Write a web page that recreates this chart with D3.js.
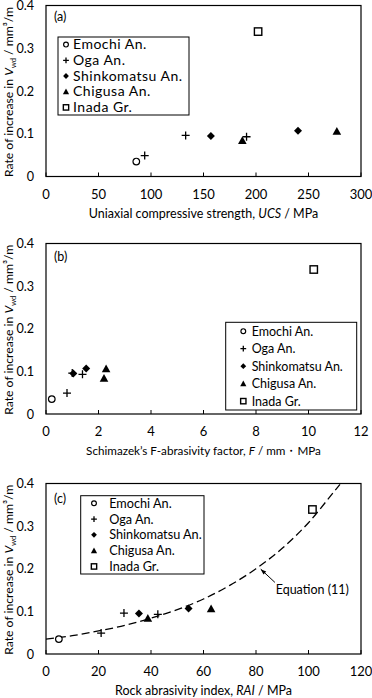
<!DOCTYPE html>
<html lang="en">
<head>
<meta charset="UTF-8">
<title>Rate of increase in Vwd vs rock properties</title>
<script src="https://d3js.org/d3.v7.min.js"></script>
<style>
    body { margin: 0; background: #fff; }
    svg { display: block; font-family: Lato, 'Open Sans', sans-serif; }
</style>
</head>
<body>
<div id="chart"></div>
<script>
// rock groups, legend order
const groups = ["Emochi An.", "Oga An.", "Shinkomatsu An.", "Chigusa An.", "Inada Gr."];

// rate of increase in Vwd (mm3/m) for each test, grouped by rock
const rateValues = [[0.035], [0.049, 0.096, 0.093], [0.095, 0.107], [0.084, 0.106], [0.339]];

// x values for the same tests in each panel
const ucsValues = [[86], [94, 133, 191], [157, 240], [187, 277], [202]];
const fValues = [[0.22], [0.8, 1.0, 1.39], [1.04, 1.53], [2.21, 2.29], [10.2]];
const raiValues = [[4.9], [21, 29.7, 42.6], [35.4, 54.3], [38.8, 62.9], [101.5]];

// Equation (11) curve: [RAI, rate]
const eqCurve = [[0, 0.035], [10, 0.043], [20, 0.054], [30, 0.067], [40, 0.084], [50, 0.104],
    [60, 0.129], [70, 0.161], [80, 0.200], [90, 0.248], [100, 0.308], [110, 0.383], [112, 0.398]];

const ucsTicks = [0, 50, 100, 150, 200, 250, 300];
const fTicks = [0, 2, 4, 6, 8, 10, 12];
const raiTicks = [0, 20, 40, 60, 80, 100, 120];
const rateTicks = [0, 0.1, 0.2, 0.3, 0.4];

const width = 372, height = 698;
const left = 46, right = 361;
const markerTypes = ["circle", "plus", "diamond", "triangle", "square"];

const svg = d3.select("#chart").append("svg")
    .attr("width", width)
    .attr("height", height);

// rich text helper: segments with italic / subscript
function richText(sel, parts) {
    parts.forEach(p => {
        const ts = sel.append("tspan").text(p.t);
        if (p.i) ts.attr("font-style", "italic");
        if (p.sub) ts.attr("font-size", "0.62em").attr("dy", 3);
        if (p.after) ts.attr("dy", -3);
    });
}

function marker(g, type, s) {
    if (type === "circle") {
        g.append("circle").attr("r", 3.3 * s).attr("fill", "#fff").attr("stroke", "#000").attr("stroke-width", 1.2);
    } else if (type === "plus") {
        const h = 4 * s;
        g.append("path").attr("d", `M${-h},0H${h}M0,${-h}V${h}`).attr("stroke", "#000").attr("stroke-width", 1.3);
    } else if (type === "diamond") {
        const h = 4 * s;
        g.append("path").attr("d", `M0,${-h}L${h},0L0,${h}L${-h},0Z`).attr("fill", "#000");
    } else if (type === "triangle") {
        const h = 4.3 * s;
        g.append("path").attr("d", `M0,${-h}L${h},${h * 0.8}L${-h},${h * 0.8}Z`).attr("fill", "#000");
    } else {
        const h = 3.7 * s;
        g.append("rect").attr("x", -h).attr("y", -h).attr("width", 2 * h).attr("height", 2 * h)
            .attr("fill", "#fff").attr("stroke", "#000").attr("stroke-width", 1.4);
    }
}

const yTitle = [{t: "Rate of increase in "}, {t: "V", i: true}, {t: "wd", sub: true}, {t: " / mm³/m", after: true}];

const panels = [
    {
        xs: ucsValues, ticks: ucsTicks, top: 5.5, bottom: 176.5, tag: "(a)", tagY: 21, titleSize: 12.5,
        title: [{t: "Uniaxial compressive strength, "}, {t: "UCS", i: true}, {t: " / MPa"}],
        legend: {x: 58, y: 37, w: 131, h: 78, row: 15.7, sym: 8, txt: 15, size: 14, spacing: 0.5}
    },
    {
        xs: fValues, ticks: fTicks, top: 243.5, bottom: 414, tag: "(b)", tagY: 261, titleSize: 11.7,
        title: [{t: "Schimazek’s F-abrasivity factor, "}, {t: "F", i: true}, {t: " / mm・MPa"}],
        legend: {x: 225.7, y: 322.3, w: 131, h: 87.7, row: 17.5, sym: 17.6, txt: 26, size: 12.5, spacing: 0}
    },
    {
        xs: raiValues, ticks: raiTicks, top: 483.5, bottom: 654, tag: "(c)", tagY: 503, titleSize: 12.5,
        title: [{t: "Rock abrasivity index, "}, {t: "RAI", i: true}, {t: " / MPa"}],
        legend: {x: 80.7, y: 495.7, w: 123.3, h: 78.3, row: 15.8, sym: 13.3, txt: 28.5, size: 12.7, spacing: 0},
        curve: eqCurve
    }
];

panels.forEach(p => {
    const x = d3.scaleLinear().domain([p.ticks[0], p.ticks[p.ticks.length - 1]]).range([left, right]);
    const y = d3.scaleLinear().domain([0, 0.4]).range([p.bottom, p.top]);
    const g = svg.append("g");

    // plot frame
    g.append("rect")
        .attr("x", left).attr("y", p.top)
        .attr("width", right - left).attr("height", p.bottom - p.top)
        .attr("fill", "none").attr("stroke", "#000").attr("stroke-width", 1.2);

    // x ticks (inside) and labels
    g.selectAll(".xt").data(p.ticks).enter().append("line")
        .attr("x1", d => x(d)).attr("x2", d => x(d))
        .attr("y1", p.bottom).attr("y2", p.bottom - 4)
        .attr("stroke", "#000").attr("stroke-width", 1);
    g.selectAll(".xl").data(p.ticks).enter().append("text")
        .attr("x", d => x(d)).attr("y", p.bottom + 22)
        .attr("text-anchor", "middle").attr("font-size", 13)
        .text(d => d);

    // y labels
    g.selectAll(".yl").data(rateTicks).enter().append("text")
        .attr("x", 34).attr("y", d => y(d) + 4.6)
        .attr("text-anchor", "end").attr("font-size", 12.6)
        .text(d => d3.format(".1~f")(d));

    // axis titles
    richText(g.append("text")
        .attr("x", (left + right) / 2).attr("y", p.bottom + 41)
        .attr("text-anchor", "middle").attr("font-size", p.titleSize), p.title);
    richText(g.append("text")
        .attr("transform", `translate(13,${(p.top + p.bottom) / 2 + 1}) rotate(-90)`)
        .attr("text-anchor", "middle").attr("font-size", 12.2), yTitle);

    // panel tag
    g.append("text").attr("x", 54).attr("y", p.tagY).attr("font-size", 12.5).text(p.tag);

    // fitted curve
    if (p.curve) {
        const line = d3.line().x(d => x(d[0])).y(d => y(d[1])).curve(d3.curveMonotoneX);
        g.append("path").attr("d", line(p.curve))
            .attr("fill", "none").attr("stroke", "#000")
            .attr("stroke-width", 1.3).attr("stroke-dasharray", "8,4");
        // Equation (11) pointer
        g.append("line")
            .attr("x1", x(87.2)).attr("y1", y(0.168))
            .attr("x2", x(81.8)).attr("y2", y(0.199))
            .attr("stroke", "#000").attr("stroke-width", 1);
        const ang = Math.atan2(y(0.199) - y(0.168), x(81.8) - x(87.2));
        const tx = x(81.8), ty = y(0.199);
        g.append("path")
            .attr("d", `M${tx},${ty}L${tx - 6 * Math.cos(ang - 0.35)},${ty - 6 * Math.sin(ang - 0.35)}L${tx - 6 * Math.cos(ang + 0.35)},${ty - 6 * Math.sin(ang + 0.35)}Z`)
            .attr("fill", "#000");
        g.append("text").attr("x", x(87.5)).attr("y", y(0.14)).attr("font-size", 12.5).text("Equation (11)");
    }

    // data points
    groups.forEach((name, i) => {
        p.xs[i].forEach((v, j) => {
            const m = g.append("g").attr("transform", `translate(${x(v)},${y(rateValues[i][j])})`);
            marker(m, markerTypes[i], 1);
        });
    });

    // legend
    const L = p.legend;
    const lg = g.append("g").attr("transform", `translate(${L.x},${L.y})`);
    lg.append("rect").attr("width", L.w).attr("height", L.h)
        .attr("fill", "#fff").attr("stroke", "#000").attr("stroke-width", 1);
    groups.forEach((name, i) => {
        const cy = (L.h - L.row * 4) / 2 + i * L.row;
        marker(lg.append("g").attr("transform", `translate(${L.sym},${cy})`), markerTypes[i], 0.72);
        lg.append("text").attr("x", L.txt).attr("y", cy + 4.5)
            .attr("font-size", L.size).attr("letter-spacing", L.spacing).text(name);
    });
});
</script>
</body>
</html>
